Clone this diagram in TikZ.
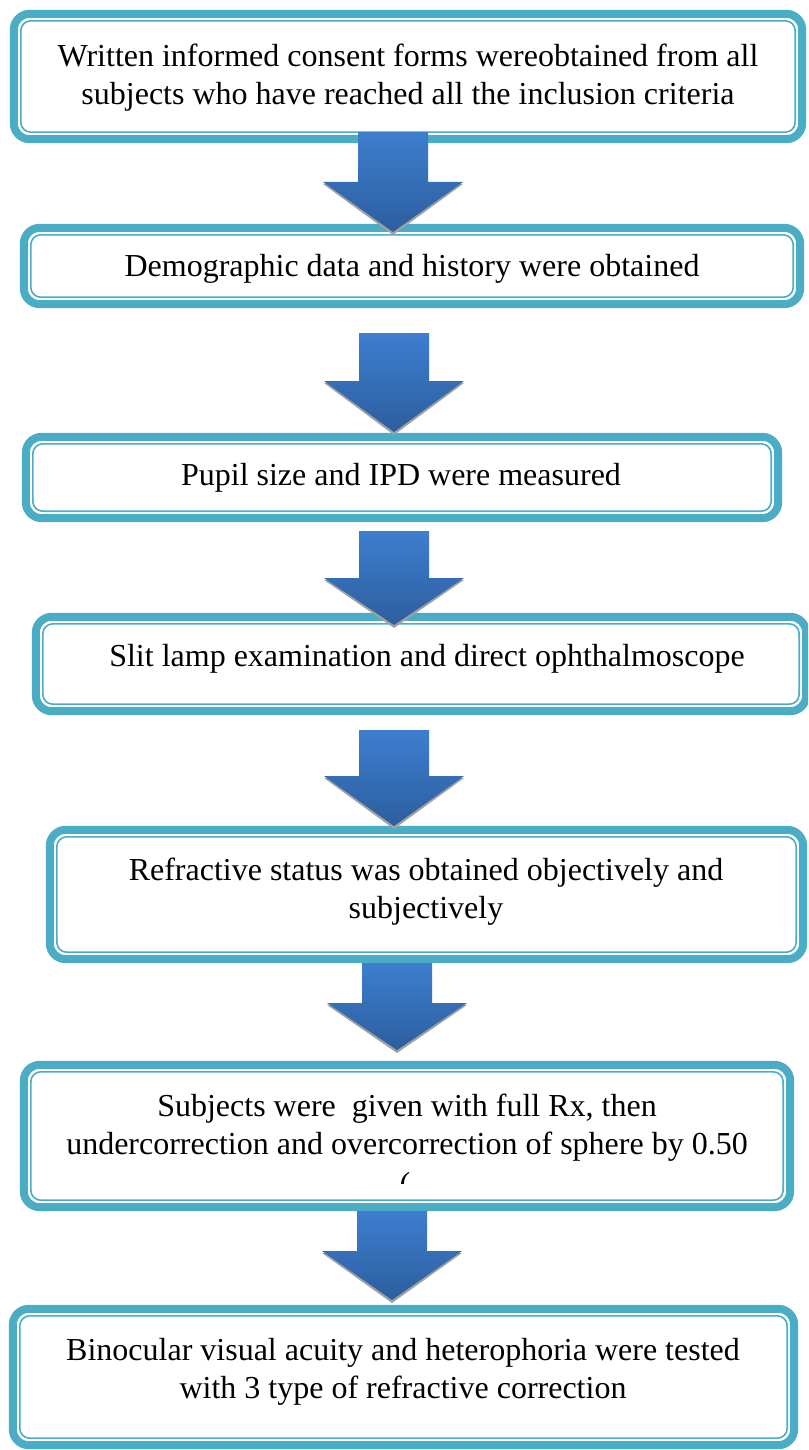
\documentclass[tikz,border=0pt]{standalone}
\usepackage{fontspec}
\setmainfont{Liberation Serif}
\definecolor{frame}{HTML}{4BACC6}
\definecolor{arrtop}{HTML}{3D7ECF}
\definecolor{arrbot}{HTML}{2D5E9E}
\definecolor{arrshadow}{HTML}{A0A0A0}
\newcommand\flowframe[1]{%
  \draw[frameout] ([shift={(4,4)}]#1.north west) rectangle ([shift={(-4,-4)}]#1.south east);
  \draw[framein] ([shift={(11,11)}]#1.north west) rectangle ([shift={(-11,-11)}]#1.south east);}
% #1 centre x, #2 top of shaft, #3 head line, #4 tip
\newcommand\blockarrow[4]{%
  \fill[arrshadow] ({#1-70},{#3+2}) -- ({#1},{#4+3}) -- ({#1+70},{#3+2}) -- ({#1+66},{#3+2}) -- ({#1},{#4-2}) -- ({#1-66},{#3+2}) -- cycle;
  \shade[top color=arrtop, bottom color=arrbot]
    ({#1-35},{#2}) -- ({#1+35},{#2}) -- ({#1+35},{#3}) -- ({#1+70},{#3}) -- ({#1},{#4}) -- ({#1-70},{#3}) -- ({#1-35},{#3}) -- cycle;}
\begin{document}
\begin{tikzpicture}[x=1pt,y=-1pt,
  frameout/.style={draw=frame, line width=8pt, rounded corners=16pt},
  framein/.style={draw=frame, line width=1.6pt, rounded corners=10pt},
  txt/.style={inner sep=0pt, align=center, font=\fontsize{32}{38}\selectfont}]
\useasboundingbox (0,0) rectangle (808,1450);
\clip (0,0) rectangle (808,1450);
% box areas (outer edges)
\node[inner sep=0pt, minimum width=796pt, minimum height=133pt] (b1) at (408,76.5) {};
\node[inner sep=0pt, minimum width=784pt, minimum height=84pt] (b2) at (412,266) {};
\node[inner sep=0pt, minimum width=760pt, minimum height=89pt] (b3) at (402,477.5) {};
\node[inner sep=0pt, minimum width=778pt, minimum height=102pt] (b4) at (421,664) {};
\node[inner sep=0pt, minimum width=761pt, minimum height=137pt] (b5) at (426.5,894.5) {};
\node[inner sep=0pt, minimum width=774pt, minimum height=150pt] (b6) at (407,1136) {};
\node[inner sep=0pt, minimum width=789pt, minimum height=144pt] (b7) at (403.5,1377) {};
\foreach \b in {b1,b2,b3,b4,b5,b6,b7} {\flowframe{\b}}
% texts
\node[txt] (t1) at (408,78) {Written informed consent forms wereobtained from all\\subjects who have reached all the inclusion criteria};
\node[txt] (t2) at (412,269) {Demographic data and history were obtained};
\node[txt] (t3) at (401,478) {Pupil size and IPD were measured};
\node[txt] (t4) at (427,659) {Slit lamp examination and direct ophthalmoscope};
\node[txt] (t5) at (426,892) {Refractive status was obtained objectively and\\subjectively};
\node[txt] (t6a) at (407,1109) {Subjects were \ given with full Rx, then};
\node[txt] (t6b) at (407,1147) {undercorrection and overcorrection of sphere by 0.50};
\begin{scope}
  \clip (380,1160) rectangle (430,1183);
  \node[txt, anchor=base] (t6c) at (405,1194) {(};
\end{scope}
\node[txt] (t7) at (403,1372) {Binocular visual acuity and heterophoria were tested\\with 3 type of refractive correction};
% block arrows between boxes
\blockarrow{393}{132}{182}{232}
\blockarrow{394}{333}{381}{432}
\blockarrow{394}{531}{578}{625}
\blockarrow{394}{730}{776}{826}
\blockarrow{397}{963}{1003}{1050}
\blockarrow{392}{1211}{1251}{1300}
\end{tikzpicture}
\end{document}
